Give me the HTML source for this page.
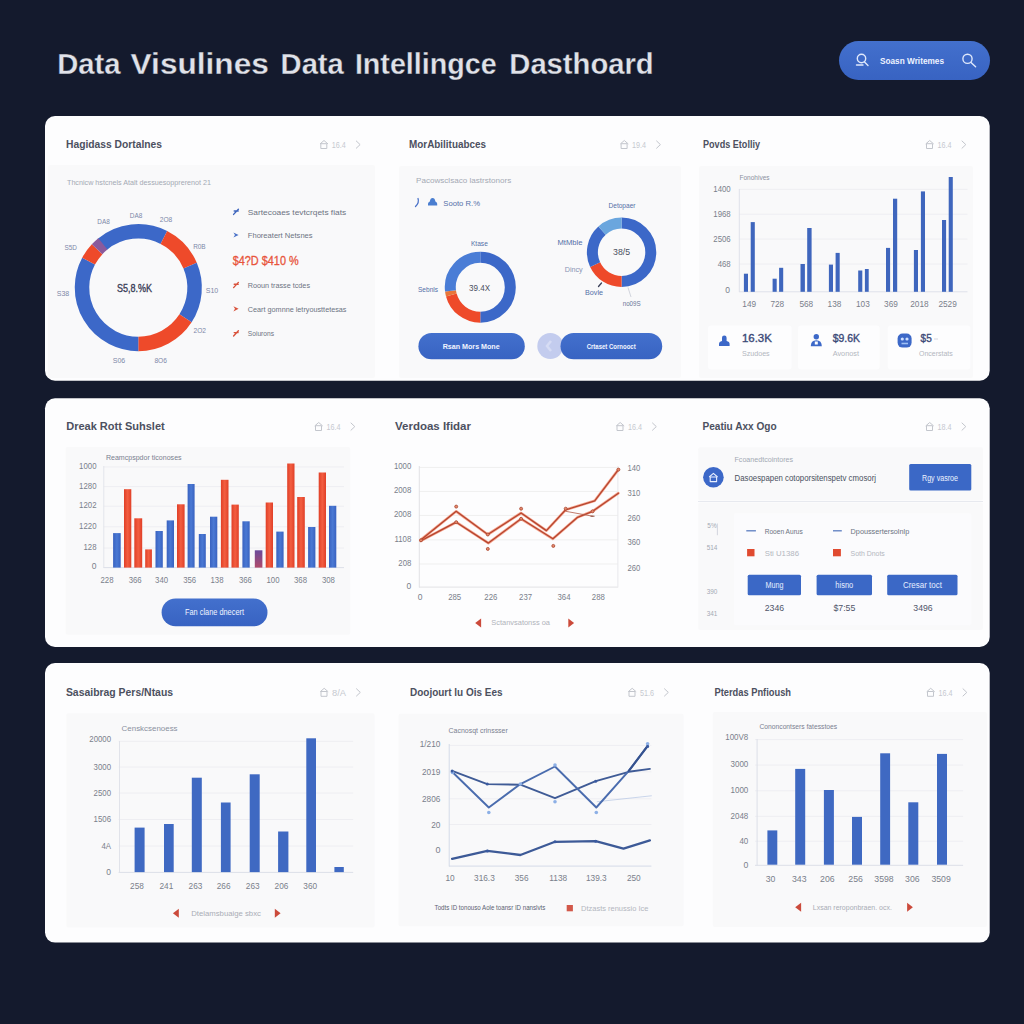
<!DOCTYPE html>
<html lang="en"><head><meta charset="utf-8"><title>Data Intelligence Dashboard</title>
<style>html,body{margin:0;padding:0;background:#141a2d;}body{width:1024px;height:1024px;overflow:hidden;}svg{display:block;}text{white-space:pre;}</style>
</head><body>
<svg width="1024" height="1024" viewBox="0 0 1024 1024" font-family='"Liberation Sans", sans-serif'>
<defs><linearGradient id="gR" x1="0" x2="1" y1="0" y2="0"><stop offset="0" stop-color="#e03f27"/><stop offset="0.5" stop-color="#f35e41"/><stop offset="1" stop-color="#e03f27"/></linearGradient><linearGradient id="gB" x1="0" x2="1" y1="0" y2="0"><stop offset="0" stop-color="#3962c0"/><stop offset="0.5" stop-color="#4a79d4"/><stop offset="1" stop-color="#3962c0"/></linearGradient><linearGradient id="gP" x1="0" x2="0" y1="0" y2="1"><stop offset="0" stop-color="#6a4a9c"/><stop offset="1" stop-color="#b04a6a"/></linearGradient><linearGradient id="gBtn" x1="0" x2="0" y1="0" y2="1"><stop offset="0" stop-color="#4370cd"/><stop offset="1" stop-color="#3863c2"/></linearGradient></defs>
<rect x="0.0" y="0.0" width="1024.0" height="1024.0" fill="#141a2d"/>
<text x="57.2" y="74.4" font-size="29.5" font-weight="bold" fill="#e0e2e9" stroke="#141a2d" stroke-width="0.3" textLength="63.4" lengthAdjust="spacingAndGlyphs">Data</text>
<text x="130.6" y="74.4" font-size="29.5" font-weight="bold" fill="#e0e2e9" stroke="#141a2d" stroke-width="0.3" textLength="138.2" lengthAdjust="spacingAndGlyphs">Visulines</text>
<text x="280.6" y="74.4" font-size="29.5" font-weight="bold" fill="#e0e2e9" stroke="#141a2d" stroke-width="0.3" textLength="63.2" lengthAdjust="spacingAndGlyphs">Data</text>
<text x="354.9" y="74.4" font-size="29.5" font-weight="bold" fill="#e0e2e9" stroke="#141a2d" stroke-width="0.3" textLength="141.8" lengthAdjust="spacingAndGlyphs">Intellingce</text>
<text x="509.3" y="74.4" font-size="29.5" font-weight="bold" fill="#e0e2e9" stroke="#141a2d" stroke-width="0.3" textLength="144.4" lengthAdjust="spacingAndGlyphs">Dasthoard</text>
<rect x="839.0" y="41.0" width="151.0" height="39.0" fill="url(#gBtn)" rx="19.5"/>
<g fill="none" stroke="#dfe8fb" stroke-width="1.4" stroke-linecap="round"><circle cx="861.5" cy="58.5" r="4.2"/><path d="M856.5 65 h6.5 M864.5 62 l3.5 3.5"/><circle cx="967.5" cy="58.8" r="4.6"/><path d="M971 62.4 l4.6 4.4"/></g>
<text x="880.0" y="63.7" font-size="9" fill="#eef3ff" textLength="64.0" lengthAdjust="spacingAndGlyphs" font-weight="bold">Soasn Writemes</text>
<rect x="45.0" y="116.0" width="944.7" height="264.7" fill="#fdfdfe" rx="10"/>
<rect x="45.0" y="398.2" width="944.7" height="248.8" fill="#fdfdfe" rx="10"/>
<rect x="45.0" y="663.0" width="944.7" height="279.6" fill="#fdfdfe" rx="10"/>
<rect x="48.0" y="165.0" width="327.0" height="213.0" fill="#f9f9fa" rx="2"/>
<rect x="399.0" y="166.0" width="282.0" height="212.0" fill="#f9f9fa" rx="2"/>
<rect x="699.0" y="166.0" width="274.0" height="212.0" fill="#f9f9fa" rx="2"/>
<text x="66.0" y="148.1" font-size="11" fill="#4c5060" textLength="96.0" lengthAdjust="spacingAndGlyphs" font-weight="bold">Hagidass Dortalnes</text>
<text x="409.0" y="148.1" font-size="11" fill="#4c5060" textLength="77.0" lengthAdjust="spacingAndGlyphs" font-weight="bold">MorAbilituabces</text>
<text x="703.0" y="148.1" font-size="11" fill="#4c5060" textLength="57.0" lengthAdjust="spacingAndGlyphs" font-weight="bold">Povds Etolliy</text>
<g fill="none" stroke="#c3c6cd" stroke-width="1" stroke-linejoin="round" stroke-linecap="round"><path d="M320.3 143.7 L324.0 140.5 L327.7 143.7"/><rect x="321.2" y="143.7" width="5.6" height="4.8"/><path d="M356.3 141.0 l3.8 3.6 l-3.8 3.6"/></g>
<text x="331.8" y="147.8" font-size="8.5" fill="#c6c9d0" textLength="14.0" lengthAdjust="spacingAndGlyphs">16.4</text>
<g fill="none" stroke="#c3c6cd" stroke-width="1" stroke-linejoin="round" stroke-linecap="round"><path d="M620.6 143.7 L624.3 140.5 L628.0 143.7"/><rect x="621.5" y="143.7" width="5.6" height="4.8"/><path d="M656.6 141.0 l3.8 3.6 l-3.8 3.6"/></g>
<text x="632.1" y="147.8" font-size="8.5" fill="#c6c9d0" textLength="14.0" lengthAdjust="spacingAndGlyphs">19.4</text>
<g fill="none" stroke="#c3c6cd" stroke-width="1" stroke-linejoin="round" stroke-linecap="round"><path d="M926.0 143.7 L929.7 140.5 L933.4 143.7"/><rect x="926.9" y="143.7" width="5.6" height="4.8"/><path d="M962.0 141.0 l3.8 3.6 l-3.8 3.6"/></g>
<text x="937.5" y="147.8" font-size="8.5" fill="#c6c9d0" textLength="14.0" lengthAdjust="spacingAndGlyphs">16.4</text>
<text x="67.0" y="185.3" font-size="7.5" fill="#a4a9b4" textLength="144.0" lengthAdjust="spacingAndGlyphs">Thcnicw hstcnels Atalt dessuesopprerenot 21</text>
<path d="M102.11 244.47 A56.3 56.3 0 0 1 163.86 237.44" fill="none" stroke="#3c68c8" stroke-width="14.5"/>
<path d="M163.86 237.44 A56.3 56.3 0 0 1 190.12 265.60" fill="none" stroke="#ee4a2a" stroke-width="14.5"/>
<path d="M190.12 265.60 A56.3 56.3 0 0 1 185.52 318.26" fill="none" stroke="#3c68c8" stroke-width="14.5"/>
<path d="M185.52 318.26 A56.3 56.3 0 0 1 138.30 343.90" fill="none" stroke="#ee4a2a" stroke-width="14.5"/>
<path d="M138.30 343.90 A56.3 56.3 0 0 1 88.59 261.17" fill="none" stroke="#3c68c8" stroke-width="14.5"/>
<path d="M88.59 261.17 A56.3 56.3 0 0 1 97.12 249.20" fill="none" stroke="#ee4a2a" stroke-width="14.5"/>
<path d="M97.12 249.20 A56.3 56.3 0 0 1 102.87 243.85" fill="none" stroke="#8a5a9c" stroke-width="14.5"/>
<text x="134.4" y="291.9" font-size="11" fill="#3a4058" text-anchor="middle" textLength="35.0" lengthAdjust="spacingAndGlyphs" stroke="#3a4058" stroke-width="0.35">S5,8.%K</text>
<text x="136.0" y="217.5" font-size="8" fill="#7d88a8" text-anchor="middle" textLength="12.5" lengthAdjust="spacingAndGlyphs">DA8</text>
<text x="103.6" y="224.2" font-size="8" fill="#7d88a8" text-anchor="middle" textLength="12.5" lengthAdjust="spacingAndGlyphs">DA8</text>
<text x="166.0" y="222.4" font-size="8" fill="#7d88a8" text-anchor="middle" textLength="12.5" lengthAdjust="spacingAndGlyphs">2O8</text>
<text x="70.7" y="249.9" font-size="8" fill="#7d88a8" text-anchor="middle" textLength="12.5" lengthAdjust="spacingAndGlyphs">S5D</text>
<text x="199.4" y="248.9" font-size="8" fill="#7d88a8" text-anchor="middle" textLength="12.5" lengthAdjust="spacingAndGlyphs">R0B</text>
<text x="63.0" y="295.9" font-size="8" fill="#7d88a8" text-anchor="middle" textLength="12.5" lengthAdjust="spacingAndGlyphs">S38</text>
<text x="212.0" y="292.9" font-size="8" fill="#7d88a8" text-anchor="middle" textLength="12.5" lengthAdjust="spacingAndGlyphs">S10</text>
<text x="199.8" y="332.9" font-size="8" fill="#7d88a8" text-anchor="middle" textLength="12.5" lengthAdjust="spacingAndGlyphs">2O2</text>
<text x="119.0" y="363.4" font-size="8" fill="#7d88a8" text-anchor="middle" textLength="12.5" lengthAdjust="spacingAndGlyphs">S06</text>
<text x="160.7" y="363.4" font-size="8" fill="#7d88a8" text-anchor="middle" textLength="12.5" lengthAdjust="spacingAndGlyphs">8O6</text>
<path d="M233.6 214.4 L238.4 209.2 M234.2 211.0 h4" stroke="#3f66bd" stroke-width="1.4" fill="none" stroke-linecap="round"/>
<text x="247.8" y="214.8" font-size="7.7" fill="#6c7382" textLength="98.4" lengthAdjust="spacingAndGlyphs">Sartecoaes tevtcrqets fiats</text>
<path d="M233.4 232.4 L238.6 235.0 L233.4 237.6 L235.0 235.0 Z" fill="#4a72c8"/>
<text x="247.8" y="237.8" font-size="7.7" fill="#6c7382" textLength="64.8" lengthAdjust="spacingAndGlyphs">Fhoreatert Netsnes</text>
<text x="232.7" y="264.6" font-size="12.2" fill="#e8543a" textLength="66.0" lengthAdjust="spacingAndGlyphs" stroke="#e8543a" stroke-width="0.3">$4?D $410 %</text>
<path d="M233.6 287.6 L238.4 282.4 M234.2 284.2 h4" stroke="#d9533c" stroke-width="1.4" fill="none" stroke-linecap="round"/>
<text x="247.8" y="288.0" font-size="7.7" fill="#6c7382" textLength="62.2" lengthAdjust="spacingAndGlyphs">Rooun trasse tcdes</text>
<path d="M233.4 306.2 L238.6 308.8 L233.4 311.4 L235.0 308.8 Z" fill="#d9533c"/>
<text x="247.8" y="311.8" font-size="7.7" fill="#6c7382" textLength="98.7" lengthAdjust="spacingAndGlyphs">Ceart gomnne letryousttetesas</text>
<path d="M233.6 336.0 L238.4 330.8 M234.2 332.6 h4" stroke="#d9533c" stroke-width="1.4" fill="none" stroke-linecap="round"/>
<text x="247.8" y="336.4" font-size="7.7" fill="#6c7382" textLength="26.2" lengthAdjust="spacingAndGlyphs">Soiurons</text>
<text x="416.0" y="183.3" font-size="7.7" fill="#a4a9b4" textLength="95.3" lengthAdjust="spacingAndGlyphs">Pacowsclsaco lastrstonors</text>
<path d="M418 198.5 q1.5 4 -2.5 8" stroke="#4a72c8" stroke-width="1.3" fill="none" stroke-linecap="round"/>
<path d="M428 205.6 v-1.8 q0 -1.8 1.8 -2.4 q0.6 -3.4 2.8 -3.4 q2.2 0 2.8 3.4 q1.8 0.6 1.8 2.4 v1.8 z" fill="#4a7ed0"/>
<text x="443.3" y="205.6" font-size="8" fill="#5570a8" textLength="36.7" lengthAdjust="spacingAndGlyphs">Sooto R.%</text>
<path d="M480.30 257.20 A30 30 0 0 1 480.30 317.20" fill="none" stroke="#3c68c8" stroke-width="11"/>
<path d="M480.30 317.20 A30 30 0 0 1 451.32 294.96" fill="none" stroke="#ee4a2a" stroke-width="11"/>
<path d="M451.32 294.96 A30 30 0 0 1 450.52 290.86" fill="none" stroke="#e8763a" stroke-width="11"/>
<path d="M450.52 290.86 A30 30 0 0 1 480.30 257.20" fill="none" stroke="#4a7dd6" stroke-width="11"/>
<text x="479.5" y="291.0" font-size="8.5" fill="#4a5060" text-anchor="middle" textLength="21.0" lengthAdjust="spacingAndGlyphs">39.4X</text>
<text x="479.4" y="245.7" font-size="7.5" fill="#5570a8" text-anchor="middle" textLength="17.0" lengthAdjust="spacingAndGlyphs">Ktase</text>
<text x="428.0" y="291.7" font-size="7.5" fill="#5570a8" text-anchor="middle" textLength="20.0" lengthAdjust="spacingAndGlyphs">Sebnls</text>
<path d="M621.60 223.10 A29.2 29.2 0 0 1 621.60 281.50" fill="none" stroke="#3c68c8" stroke-width="11"/>
<path d="M621.60 281.50 A29.2 29.2 0 0 1 595.14 264.64" fill="none" stroke="#ee4a2a" stroke-width="11"/>
<path d="M595.14 264.64 A29.2 29.2 0 0 1 602.06 230.60" fill="none" stroke="#3c68c8" stroke-width="11"/>
<path d="M602.06 230.60 A29.2 29.2 0 0 1 621.60 223.10" fill="none" stroke="#6aa6de" stroke-width="11"/>
<text x="621.6" y="254.9" font-size="8.5" fill="#4a5060" text-anchor="middle" textLength="17.0" lengthAdjust="spacingAndGlyphs">38/5</text>
<text x="622.0" y="208.1" font-size="7.5" fill="#5570a8" text-anchor="middle" textLength="27.0" lengthAdjust="spacingAndGlyphs">Detopaer</text>
<text x="570.0" y="244.7" font-size="7.5" fill="#5570a8" text-anchor="middle" textLength="25.0" lengthAdjust="spacingAndGlyphs">MtMble</text>
<text x="573.7" y="272.0" font-size="7.5" fill="#8a94b4" text-anchor="middle" textLength="18.0" lengthAdjust="spacingAndGlyphs">Dincy</text>
<text x="594.0" y="295.1" font-size="7.5" fill="#5570a8" text-anchor="middle" textLength="18.0" lengthAdjust="spacingAndGlyphs">Bovle</text>
<text x="631.7" y="306.3" font-size="7.5" fill="#6a7898" text-anchor="middle" textLength="18.0" lengthAdjust="spacingAndGlyphs">no09S</text>
<line x1="628.0" y1="287.5" x2="631.0" y2="297.0" stroke="#c8ccd6" stroke-width="0.8"/>
<path d="M598.5 286.5 l3 -3.5" stroke="#3a4058" stroke-width="1.3" stroke-linecap="round"/>
<rect x="418.4" y="333.0" width="106.4" height="26.3" fill="url(#gBtn)" rx="13.2"/>
<text x="471.2" y="349.1" font-size="8" fill="#f1f5ff" text-anchor="middle" textLength="57.0" lengthAdjust="spacingAndGlyphs" font-weight="bold">Rsan Mors Mone</text>
<circle cx="550.3" cy="346" r="13" fill="#c3ccee"/>
<path d="M551 341 l-4 5 l4 5" stroke="#d6dcf4" stroke-width="2.5" fill="none"/>
<rect x="560.5" y="333.0" width="101.7" height="26.3" fill="url(#gBtn)" rx="13.2"/>
<text x="611.2" y="348.8" font-size="7.3" fill="#f1f5ff" text-anchor="middle" textLength="49.0" lengthAdjust="spacingAndGlyphs" font-weight="bold">Crtaset Cornooct</text>
<text x="739.5" y="180.1" font-size="7" fill="#8a90a0" textLength="30.0" lengthAdjust="spacingAndGlyphs">Fonohives</text>
<line x1="739.0" y1="189.3" x2="967.5" y2="189.3" stroke="#eeeef2" stroke-width="1"/>
<line x1="739.0" y1="214.2" x2="967.5" y2="214.2" stroke="#eeeef2" stroke-width="1"/>
<line x1="739.0" y1="239.1" x2="967.5" y2="239.1" stroke="#eeeef2" stroke-width="1"/>
<line x1="739.0" y1="264.0" x2="967.5" y2="264.0" stroke="#eeeef2" stroke-width="1"/>
<line x1="739.0" y1="291.8" x2="967.5" y2="291.8" stroke="#dfe2ea" stroke-width="1"/>
<line x1="739.3" y1="189.0" x2="739.3" y2="292.0" stroke="#dfe2ea" stroke-width="1"/>
<text x="730.7" y="192.3" font-size="8.5" fill="#7a7f8b" text-anchor="end" textLength="17.4" lengthAdjust="spacingAndGlyphs">1400</text>
<text x="730.7" y="217.2" font-size="8.5" fill="#7a7f8b" text-anchor="end" textLength="17.4" lengthAdjust="spacingAndGlyphs">1968</text>
<text x="730.7" y="242.1" font-size="8.5" fill="#7a7f8b" text-anchor="end" textLength="17.4" lengthAdjust="spacingAndGlyphs">2506</text>
<text x="730.7" y="267.0" font-size="8.5" fill="#7a7f8b" text-anchor="end" textLength="13.0" lengthAdjust="spacingAndGlyphs">468</text>
<text x="730.0" y="292.5" font-size="8.5" fill="#7a7f8b" text-anchor="end">0</text>
<rect x="743.9" y="273.7" width="4.1" height="18.1" fill="#3f66bd"/>
<rect x="750.7" y="222.1" width="4.1" height="69.7" fill="#3f66bd"/>
<rect x="772.6" y="278.7" width="4.1" height="13.1" fill="#3f66bd"/>
<rect x="779.1" y="267.8" width="4.1" height="24.0" fill="#3f66bd"/>
<rect x="800.5" y="264.0" width="4.4" height="27.8" fill="#3f66bd"/>
<rect x="807.2" y="228.0" width="4.4" height="63.8" fill="#3f66bd"/>
<rect x="828.9" y="264.6" width="4.1" height="27.2" fill="#3f66bd"/>
<rect x="835.6" y="252.9" width="4.1" height="38.9" fill="#3f66bd"/>
<rect x="858.2" y="270.5" width="4.1" height="21.3" fill="#3f66bd"/>
<rect x="864.9" y="269.0" width="3.8" height="22.8" fill="#3f66bd"/>
<rect x="886.0" y="247.9" width="4.1" height="43.9" fill="#3f66bd"/>
<rect x="893.0" y="198.7" width="4.2" height="93.1" fill="#3f66bd"/>
<rect x="913.9" y="250.0" width="4.1" height="41.8" fill="#3f66bd"/>
<rect x="920.9" y="191.4" width="4.1" height="100.4" fill="#3f66bd"/>
<rect x="942.0" y="220.0" width="4.1" height="71.8" fill="#3f66bd"/>
<rect x="948.7" y="177.0" width="4.1" height="114.8" fill="#3f66bd"/>
<text x="749.2" y="307.4" font-size="9" fill="#7a7f8b" text-anchor="middle" textLength="13.8" lengthAdjust="spacingAndGlyphs">149</text>
<text x="777.3" y="307.4" font-size="9" fill="#7a7f8b" text-anchor="middle" textLength="13.8" lengthAdjust="spacingAndGlyphs">728</text>
<text x="806.3" y="307.4" font-size="9" fill="#7a7f8b" text-anchor="middle" textLength="13.8" lengthAdjust="spacingAndGlyphs">568</text>
<text x="834.5" y="307.4" font-size="9" fill="#7a7f8b" text-anchor="middle" textLength="13.8" lengthAdjust="spacingAndGlyphs">138</text>
<text x="862.9" y="307.4" font-size="9" fill="#7a7f8b" text-anchor="middle" textLength="13.8" lengthAdjust="spacingAndGlyphs">103</text>
<text x="891.0" y="307.4" font-size="9" fill="#7a7f8b" text-anchor="middle" textLength="13.8" lengthAdjust="spacingAndGlyphs">369</text>
<text x="919.4" y="307.4" font-size="9" fill="#7a7f8b" text-anchor="middle" textLength="18.4" lengthAdjust="spacingAndGlyphs">2018</text>
<text x="947.6" y="307.4" font-size="9" fill="#7a7f8b" text-anchor="middle" textLength="18.4" lengthAdjust="spacingAndGlyphs">2529</text>
<rect x="708.0" y="325.5" width="83.7" height="44.0" fill="#fdfdfe" rx="3"/>
<rect x="798.0" y="325.5" width="81.6" height="44.0" fill="#fdfdfe" rx="3"/>
<rect x="887.8" y="325.5" width="82.6" height="44.0" fill="#fdfdfe" rx="3"/>
<path d="M719 346 v-2 q0 -2.5 3 -3 v-3.2 q0 -2.3 2.3 -2.3 q2.3 0 2.3 2.3 v3.2 q3 0.5 3 3 v2 z" fill="#3c68c8"/>
<circle cx="816.3" cy="336.8" r="2.7" fill="#3c68c8"/><path d="M810.8 346.3 q0 -6 5.5 -6 q5.5 0 5.5 6 z" fill="#3c68c8"/><rect x="814.8" y="341.5" width="3" height="3" fill="#fdfdfe"/>
<rect x="897.6" y="333.6" width="14" height="14" rx="5" fill="#3c68c8"/><circle cx="902.3" cy="339" r="1.6" fill="#cfe0ff"/><circle cx="907" cy="339" r="1.6" fill="#cfe0ff"/><path d="M901.5 343.5 h6.5" stroke="#9fc0f5" stroke-width="1.6"/>
<text x="741.9" y="341.9" font-size="10.5" fill="#3c4a78" textLength="30.0" lengthAdjust="spacingAndGlyphs" stroke="#3c4a78" stroke-width="0.35">16.3K</text>
<text x="741.9" y="356.1" font-size="7.5" fill="#b3b7c0" textLength="27.8" lengthAdjust="spacingAndGlyphs">Szudoes</text>
<text x="832.7" y="341.9" font-size="10.5" fill="#3c4a78" textLength="27.3" lengthAdjust="spacingAndGlyphs" stroke="#3c4a78" stroke-width="0.35">$9.6K</text>
<text x="832.7" y="356.1" font-size="7.5" fill="#b3b7c0" textLength="26.3" lengthAdjust="spacingAndGlyphs">Avonost</text>
<text x="920.6" y="341.9" font-size="10.5" fill="#3c4a78" textLength="11.1" lengthAdjust="spacingAndGlyphs" stroke="#3c4a78" stroke-width="0.35">$5</text>
<line x1="934.0" y1="339.0" x2="938.0" y2="339.0" stroke="#d5d8e0" stroke-width="1"/>
<text x="919.0" y="356.1" font-size="7.5" fill="#b3b7c0" textLength="33.8" lengthAdjust="spacingAndGlyphs">Oncerstats</text>
<rect x="65.6" y="447.0" width="284.6" height="187.8" fill="#f9f9fa" rx="2"/>
<rect x="698.2" y="447.3" width="284.8" height="53.2" fill="#f9f9fa" rx="2"/>
<rect x="698.2" y="502.5" width="284.8" height="127.5" fill="#f9f9fa" rx="2"/>
<line x1="698.0" y1="501.5" x2="983.0" y2="501.5" stroke="#e7e9ef" stroke-width="1"/>
<rect x="734.0" y="513.2" width="237.3" height="112.0" fill="#fbfbfd" rx="2"/>
<text x="66.2" y="430.1" font-size="11" fill="#4c5060" textLength="98.5" lengthAdjust="spacingAndGlyphs" font-weight="bold">Dreak Rott Suhslet</text>
<text x="395.0" y="430.1" font-size="11" fill="#4c5060" textLength="76.0" lengthAdjust="spacingAndGlyphs" font-weight="bold">Verdoas Ifidar</text>
<text x="702.5" y="430.1" font-size="11" fill="#4c5060" textLength="74.2" lengthAdjust="spacingAndGlyphs" font-weight="bold">Peatiu Axx Ogo</text>
<g fill="none" stroke="#c3c6cd" stroke-width="1" stroke-linejoin="round" stroke-linecap="round"><path d="M315.0 425.7 L318.7 422.5 L322.4 425.7"/><rect x="315.9" y="425.7" width="5.6" height="4.8"/><path d="M351.0 423.0 l3.8 3.6 l-3.8 3.6"/></g>
<text x="326.5" y="429.8" font-size="8.5" fill="#c6c9d0" textLength="14.0" lengthAdjust="spacingAndGlyphs">16.4</text>
<g fill="none" stroke="#c3c6cd" stroke-width="1" stroke-linejoin="round" stroke-linecap="round"><path d="M616.5 425.7 L620.2 422.5 L623.9 425.7"/><rect x="617.4" y="425.7" width="5.6" height="4.8"/><path d="M652.5 423.0 l3.8 3.6 l-3.8 3.6"/></g>
<text x="628.0" y="429.8" font-size="8.5" fill="#c6c9d0" textLength="14.0" lengthAdjust="spacingAndGlyphs">16.4</text>
<g fill="none" stroke="#c3c6cd" stroke-width="1" stroke-linejoin="round" stroke-linecap="round"><path d="M926.0 425.7 L929.7 422.5 L933.4 425.7"/><rect x="926.9" y="425.7" width="5.6" height="4.8"/><path d="M962.0 423.0 l3.8 3.6 l-3.8 3.6"/></g>
<text x="937.5" y="429.8" font-size="8.5" fill="#c6c9d0" textLength="14.0" lengthAdjust="spacingAndGlyphs">18.4</text>
<text x="105.9" y="460.3" font-size="7.3" fill="#7a8090" textLength="75.7" lengthAdjust="spacingAndGlyphs">Reamcpspdor ticonoses</text>
<line x1="103.4" y1="466.9" x2="344.0" y2="466.9" stroke="#eeeef2" stroke-width="1"/>
<line x1="103.4" y1="486.6" x2="344.0" y2="486.6" stroke="#eeeef2" stroke-width="1"/>
<line x1="103.4" y1="506.2" x2="344.0" y2="506.2" stroke="#eeeef2" stroke-width="1"/>
<line x1="103.4" y1="526.8" x2="344.0" y2="526.8" stroke="#eeeef2" stroke-width="1"/>
<line x1="103.4" y1="548.0" x2="344.0" y2="548.0" stroke="#eeeef2" stroke-width="1"/>
<line x1="103.4" y1="567.6" x2="344.0" y2="567.6" stroke="#dcdfe8" stroke-width="1"/>
<line x1="103.8" y1="466.0" x2="103.8" y2="568.0" stroke="#e3e5ec" stroke-width="1"/>
<text x="96.5" y="468.9" font-size="8.5" fill="#7a7f8b" text-anchor="end" textLength="17.4" lengthAdjust="spacingAndGlyphs">1000</text>
<text x="96.5" y="488.6" font-size="8.5" fill="#7a7f8b" text-anchor="end" textLength="17.4" lengthAdjust="spacingAndGlyphs">1280</text>
<text x="96.5" y="508.2" font-size="8.5" fill="#7a7f8b" text-anchor="end" textLength="17.4" lengthAdjust="spacingAndGlyphs">1202</text>
<text x="96.5" y="528.8" font-size="8.5" fill="#7a7f8b" text-anchor="end" textLength="17.4" lengthAdjust="spacingAndGlyphs">1220</text>
<text x="96.5" y="550.0" font-size="8.5" fill="#7a7f8b" text-anchor="end" textLength="13.0" lengthAdjust="spacingAndGlyphs">128</text>
<text x="96.5" y="569.0" font-size="8.5" fill="#7a7f8b" text-anchor="end">0</text>
<rect x="113.1" y="533.1" width="7.6" height="34.5" fill="url(#gB)"/>
<rect x="124.0" y="489.2" width="7.3" height="78.4" fill="url(#gR)"/>
<rect x="134.3" y="518.3" width="7.9" height="49.3" fill="url(#gR)"/>
<rect x="145.2" y="549.4" width="6.7" height="18.2" fill="url(#gR)"/>
<rect x="155.5" y="531.0" width="7.3" height="36.6" fill="url(#gB)"/>
<rect x="166.7" y="520.4" width="7.3" height="47.2" fill="url(#gB)"/>
<rect x="177.0" y="504.3" width="7.6" height="63.3" fill="url(#gR)"/>
<rect x="187.6" y="484.0" width="7.0" height="83.6" fill="url(#gB)"/>
<rect x="198.8" y="534.0" width="7.0" height="33.6" fill="url(#gB)"/>
<rect x="210.0" y="516.7" width="7.3" height="50.9" fill="url(#gB)"/>
<rect x="220.9" y="479.8" width="7.6" height="87.8" fill="url(#gR)"/>
<rect x="231.5" y="504.6" width="7.3" height="63.0" fill="url(#gR)"/>
<rect x="242.4" y="521.3" width="7.3" height="46.3" fill="url(#gB)"/>
<rect x="254.8" y="550.3" width="7.6" height="17.3" fill="url(#gP)"/>
<rect x="265.7" y="502.5" width="7.3" height="65.1" fill="url(#gR)"/>
<rect x="276.3" y="531.6" width="7.3" height="36.0" fill="url(#gB)"/>
<rect x="287.2" y="463.5" width="7.3" height="104.1" fill="url(#gR)"/>
<rect x="297.2" y="497.0" width="7.6" height="70.6" fill="url(#gR)"/>
<rect x="308.1" y="527.0" width="7.3" height="40.6" fill="url(#gB)"/>
<rect x="318.7" y="472.5" width="7.3" height="95.1" fill="url(#gR)"/>
<rect x="329.0" y="505.8" width="7.3" height="61.8" fill="url(#gB)"/>
<text x="107.0" y="583.3" font-size="8.5" fill="#7a7f8b" text-anchor="middle" textLength="13.0" lengthAdjust="spacingAndGlyphs">228</text>
<text x="135.2" y="583.3" font-size="8.5" fill="#7a7f8b" text-anchor="middle" textLength="13.0" lengthAdjust="spacingAndGlyphs">366</text>
<text x="161.6" y="583.3" font-size="8.5" fill="#7a7f8b" text-anchor="middle" textLength="13.0" lengthAdjust="spacingAndGlyphs">340</text>
<text x="189.7" y="583.3" font-size="8.5" fill="#7a7f8b" text-anchor="middle" textLength="13.0" lengthAdjust="spacingAndGlyphs">356</text>
<text x="217.0" y="583.3" font-size="8.5" fill="#7a7f8b" text-anchor="middle" textLength="13.0" lengthAdjust="spacingAndGlyphs">138</text>
<text x="245.4" y="583.3" font-size="8.5" fill="#7a7f8b" text-anchor="middle" textLength="13.0" lengthAdjust="spacingAndGlyphs">366</text>
<text x="273.0" y="583.3" font-size="8.5" fill="#7a7f8b" text-anchor="middle" textLength="13.0" lengthAdjust="spacingAndGlyphs">100</text>
<text x="300.5" y="583.3" font-size="8.5" fill="#7a7f8b" text-anchor="middle" textLength="13.0" lengthAdjust="spacingAndGlyphs">368</text>
<text x="328.4" y="583.3" font-size="8.5" fill="#7a7f8b" text-anchor="middle" textLength="13.0" lengthAdjust="spacingAndGlyphs">308</text>
<rect x="161.6" y="598.5" width="105.9" height="27.8" fill="url(#gBtn)" rx="14"/>
<text x="214.5" y="615.3" font-size="8.5" fill="#f1f5ff" text-anchor="middle" textLength="59.0" lengthAdjust="spacingAndGlyphs">Fan clane dnecert</text>
<line x1="419.0" y1="467.4" x2="617.9" y2="467.4" stroke="#efefef" stroke-width="1"/>
<line x1="419.0" y1="491.4" x2="617.9" y2="491.4" stroke="#efefef" stroke-width="1"/>
<line x1="419.0" y1="515.4" x2="617.9" y2="515.4" stroke="#efefef" stroke-width="1"/>
<line x1="419.0" y1="539.8" x2="617.9" y2="539.8" stroke="#efefef" stroke-width="1"/>
<line x1="419.0" y1="564.0" x2="617.9" y2="564.0" stroke="#efefef" stroke-width="1"/>
<line x1="419.0" y1="587.1" x2="617.9" y2="587.1" stroke="#e2e2e5" stroke-width="1"/>
<line x1="419.3" y1="466.0" x2="419.3" y2="587.5" stroke="#e2e2e5" stroke-width="1"/>
<line x1="617.9" y1="466.0" x2="617.9" y2="587.5" stroke="#e9e9ec" stroke-width="1"/>
<text x="411.3" y="469.4" font-size="8.5" fill="#7a7f8b" text-anchor="end" textLength="17.4" lengthAdjust="spacingAndGlyphs">1000</text>
<text x="411.3" y="493.4" font-size="8.5" fill="#7a7f8b" text-anchor="end" textLength="17.4" lengthAdjust="spacingAndGlyphs">2008</text>
<text x="411.3" y="517.4" font-size="8.5" fill="#7a7f8b" text-anchor="end" textLength="17.4" lengthAdjust="spacingAndGlyphs">2008</text>
<text x="411.3" y="541.8" font-size="8.5" fill="#7a7f8b" text-anchor="end" textLength="16.8" lengthAdjust="spacingAndGlyphs">1108</text>
<text x="411.3" y="566.0" font-size="8.5" fill="#7a7f8b" text-anchor="end" textLength="13.0" lengthAdjust="spacingAndGlyphs">208</text>
<text x="411.3" y="589.2" font-size="8.5" fill="#7a7f8b" text-anchor="end">0</text>
<text x="627.6" y="470.6" font-size="8.5" fill="#7a7f8b" textLength="12.8" lengthAdjust="spacingAndGlyphs">140</text>
<text x="627.6" y="495.5" font-size="8.5" fill="#7a7f8b" textLength="12.8" lengthAdjust="spacingAndGlyphs">310</text>
<text x="627.6" y="520.7" font-size="8.5" fill="#7a7f8b" textLength="12.8" lengthAdjust="spacingAndGlyphs">260</text>
<text x="627.6" y="545.3" font-size="8.5" fill="#7a7f8b" textLength="12.8" lengthAdjust="spacingAndGlyphs">360</text>
<text x="627.6" y="571.0" font-size="8.5" fill="#7a7f8b" textLength="12.8" lengthAdjust="spacingAndGlyphs">260</text>
<text x="420.1" y="600.4" font-size="8.5" fill="#7a7f8b" text-anchor="middle">0</text>
<text x="454.7" y="600.4" font-size="8.5" fill="#7a7f8b" text-anchor="middle" textLength="13.0" lengthAdjust="spacingAndGlyphs">285</text>
<text x="490.8" y="600.4" font-size="8.5" fill="#7a7f8b" text-anchor="middle" textLength="13.0" lengthAdjust="spacingAndGlyphs">226</text>
<text x="525.6" y="600.4" font-size="8.5" fill="#7a7f8b" text-anchor="middle" textLength="13.0" lengthAdjust="spacingAndGlyphs">237</text>
<text x="564.0" y="600.4" font-size="8.5" fill="#7a7f8b" text-anchor="middle" textLength="13.0" lengthAdjust="spacingAndGlyphs">364</text>
<text x="598.3" y="600.4" font-size="8.5" fill="#7a7f8b" text-anchor="middle" textLength="13.0" lengthAdjust="spacingAndGlyphs">288</text>
<polyline points="420.7,540.9 456.2,522.2 488.4,543.1 521.1,518.8 552.9,538.8 577.6,517.3 592.6,511.3 618.4,493.2" fill="none" stroke="#f26a45" stroke-width="2.7" stroke-linejoin="round" stroke-linecap="round" opacity="0.6"/>
<polyline points="420.7,540.9 456.2,522.2 488.4,543.1 521.1,518.8 552.9,538.8 577.6,517.3 592.6,511.3 618.4,493.2" fill="none" stroke="#b5452f" stroke-width="1.3" stroke-linejoin="round" stroke-linecap="round"/>
<polyline points="565.7,511.3 592.6,516.2" fill="none" stroke="#b05a48" stroke-width="0.8" stroke-linejoin="round" stroke-linecap="round"/>
<polyline points="420.7,539.9 456.2,511.3 487.8,534.5 521.1,513.0 546.4,530.6 565.7,509.8 594.7,500.8 618.4,469.6" fill="none" stroke="#f26a45" stroke-width="2.7" stroke-linejoin="round" stroke-linecap="round" opacity="0.6"/>
<polyline points="420.7,539.9 456.2,511.3 487.8,534.5 521.1,513.0 546.4,530.6 565.7,509.8 594.7,500.8 618.4,469.6" fill="none" stroke="#b5452f" stroke-width="1.3" stroke-linejoin="round" stroke-linecap="round"/>
<circle cx="456.2" cy="506.6" r="1.5" fill="#e58a6e" stroke="#a8452f" stroke-width="0.8"/>
<circle cx="521.1" cy="508.7" r="1.5" fill="#e58a6e" stroke="#a8452f" stroke-width="0.8"/>
<circle cx="487.8" cy="548.9" r="1.5" fill="#e58a6e" stroke="#a8452f" stroke-width="0.8"/>
<circle cx="553.3" cy="545.9" r="1.5" fill="#e58a6e" stroke="#a8452f" stroke-width="0.8"/>
<circle cx="487.8" cy="534.5" r="1.5" fill="#e58a6e" stroke="#a8452f" stroke-width="0.8"/>
<circle cx="521.1" cy="518.8" r="1.5" fill="#e58a6e" stroke="#a8452f" stroke-width="0.8"/>
<circle cx="456.2" cy="522.2" r="1.5" fill="#e58a6e" stroke="#a8452f" stroke-width="0.8"/>
<circle cx="592.6" cy="511.3" r="1.5" fill="#e58a6e" stroke="#a8452f" stroke-width="0.8"/>
<circle cx="421" cy="540.3" r="1.5" fill="#e58a6e" stroke="#a8452f" stroke-width="0.8"/>
<circle cx="565.7" cy="508.7" r="1.5" fill="#e58a6e" stroke="#a8452f" stroke-width="0.8"/>
<circle cx="618.4" cy="469.6" r="1.5" fill="#e58a6e" stroke="#a8452f" stroke-width="0.8"/>
<line x1="590.5" y1="516.2" x2="594.5" y2="516.2" stroke="#8a4a3a" stroke-width="1"/>
<path d="M481.1 618.4 L475.2 622.9 L481.1 627.4 Z" fill="#cb4a3b"/>
<path d="M568.3 618.4 L574.1 622.9 L568.3 627.4 Z" fill="#cb4a3b"/>
<text x="491.3" y="625.4" font-size="7" fill="#b0b3bb" textLength="58.7" lengthAdjust="spacingAndGlyphs">Sctanvsatonss oa</text>
<text x="734.5" y="462.2" font-size="7.3" fill="#a4a9b4" textLength="58.6" lengthAdjust="spacingAndGlyphs">Fcoanedtcointores</text>
<circle cx="713.4" cy="477.2" r="10.3" fill="#3c68c8"/>
<g fill="none" stroke="#e9f0ff" stroke-width="1.1" stroke-linejoin="round"><path d="M709.2 477 l4.2 -3.6 l4.2 3.6"/><rect x="710.2" y="477" width="6.4" height="4.6"/></g>
<text x="734.5" y="480.6" font-size="8.6" fill="#4a5060" textLength="141.5" lengthAdjust="spacingAndGlyphs">Dasoespapen cotoporsitenspetv cmosorj</text>
<rect x="909.2" y="464.0" width="62.1" height="26.4" fill="#3b68c6" rx="1.5"/>
<text x="940.0" y="480.5" font-size="8.5" fill="#eef3ff" text-anchor="middle" textLength="36.0" lengthAdjust="spacingAndGlyphs">Rgy vasroe</text>
<text x="712.0" y="527.5" font-size="7" fill="#a4a9b4" text-anchor="middle" textLength="9.3" lengthAdjust="spacingAndGlyphs">5%</text>
<text x="712.0" y="550.3" font-size="7" fill="#a4a9b4" text-anchor="middle" textLength="10.7" lengthAdjust="spacingAndGlyphs">514</text>
<text x="712.0" y="594.0" font-size="7" fill="#a4a9b4" text-anchor="middle" textLength="10.7" lengthAdjust="spacingAndGlyphs">390</text>
<text x="712.0" y="616.0" font-size="7" fill="#a4a9b4" text-anchor="middle" textLength="10.7" lengthAdjust="spacingAndGlyphs">341</text>
<line x1="717.4" y1="523.5" x2="717.4" y2="535.2" stroke="#c9cdd6" stroke-width="0.8"/>
<line x1="746.3" y1="530.8" x2="755.9" y2="530.8" stroke="#5a7cc0" stroke-width="1.3"/>
<text x="764.7" y="533.7" font-size="7.5" fill="#6c7382" textLength="38.1" lengthAdjust="spacingAndGlyphs">Rooen Aurus</text>
<line x1="833.0" y1="530.8" x2="841.8" y2="530.8" stroke="#5a7cc0" stroke-width="1.3"/>
<text x="850.6" y="533.7" font-size="7.5" fill="#6c7382" textLength="58.6" lengthAdjust="spacingAndGlyphs">Dpoussertersolnlp</text>
<rect x="747.1" y="549.0" width="7.4" height="7.3" fill="#e04a30"/>
<text x="764.7" y="555.5" font-size="7.5" fill="#b3b7c0" textLength="34.3" lengthAdjust="spacingAndGlyphs">Sti U1386</text>
<rect x="833.0" y="549.0" width="7.9" height="7.3" fill="#e04a30"/>
<text x="850.6" y="555.5" font-size="7.5" fill="#b3b7c0" textLength="34.2" lengthAdjust="spacingAndGlyphs">Soth Dnots</text>
<rect x="747.7" y="574.8" width="53.3" height="20.5" fill="#3b68c6" rx="1.5"/>
<text x="774.4" y="588.3" font-size="8.5" fill="#e6eeff" text-anchor="middle" textLength="18.0" lengthAdjust="spacingAndGlyphs">Mung</text>
<rect x="816.6" y="574.8" width="55.4" height="20.5" fill="#3b68c6" rx="1.5"/>
<text x="844.3" y="588.3" font-size="8.5" fill="#e6eeff" text-anchor="middle" textLength="18.0" lengthAdjust="spacingAndGlyphs">hisno</text>
<rect x="887.2" y="574.8" width="70.3" height="20.5" fill="#3b68c6" rx="1.5"/>
<text x="922.4" y="588.3" font-size="8.5" fill="#e6eeff" text-anchor="middle" textLength="39.0" lengthAdjust="spacingAndGlyphs">Cresar toct</text>
<text x="774.4" y="611.2" font-size="9.5" fill="#50566a" text-anchor="middle" textLength="19.4" lengthAdjust="spacingAndGlyphs">2346</text>
<text x="844.4" y="611.2" font-size="9.5" fill="#50566a" text-anchor="middle" textLength="21.9" lengthAdjust="spacingAndGlyphs">$7:55</text>
<text x="923.0" y="611.2" font-size="9.5" fill="#50566a" text-anchor="middle" textLength="19.4" lengthAdjust="spacingAndGlyphs">3496</text>
<rect x="66.3" y="713.3" width="308.3" height="214.1" fill="#f9f9fa" rx="2"/>
<rect x="398.5" y="713.8" width="285.1" height="212.4" fill="#f9f9fa" rx="2"/>
<rect x="712.8" y="712.0" width="274.2" height="215.0" fill="#f9f9fa" rx="2"/>
<text x="65.9" y="695.9" font-size="11" fill="#4c5060" textLength="107.2" lengthAdjust="spacingAndGlyphs" font-weight="bold">Sasaibrag Pers/Ntaus</text>
<text x="410.0" y="695.9" font-size="11" fill="#4c5060" textLength="92.5" lengthAdjust="spacingAndGlyphs" font-weight="bold">Doojourt lu Ois Ees</text>
<text x="714.5" y="695.9" font-size="11" fill="#4c5060" textLength="76.5" lengthAdjust="spacingAndGlyphs" font-weight="bold">Pterdas Pnfioush</text>
<g fill="none" stroke="#c3c6cd" stroke-width="1" stroke-linejoin="round" stroke-linecap="round"><path d="M320.5 691.5 L324.2 688.3 L327.9 691.5"/><rect x="321.4" y="691.5" width="5.6" height="4.8"/><path d="M356.5 688.8 l3.8 3.6 l-3.8 3.6"/></g>
<text x="332.0" y="695.6" font-size="8.5" fill="#c6c9d0" textLength="14.0" lengthAdjust="spacingAndGlyphs">8/A</text>
<g fill="none" stroke="#c3c6cd" stroke-width="1" stroke-linejoin="round" stroke-linecap="round"><path d="M628.5 691.5 L632.2 688.3 L635.9 691.5"/><rect x="629.4" y="691.5" width="5.6" height="4.8"/><path d="M664.5 688.8 l3.8 3.6 l-3.8 3.6"/></g>
<text x="640.0" y="695.6" font-size="8.5" fill="#c6c9d0" textLength="14.0" lengthAdjust="spacingAndGlyphs">51.6</text>
<g fill="none" stroke="#c3c6cd" stroke-width="1" stroke-linejoin="round" stroke-linecap="round"><path d="M927.0 691.5 L930.7 688.3 L934.4 691.5"/><rect x="927.9" y="691.5" width="5.6" height="4.8"/><path d="M963.0 688.8 l3.8 3.6 l-3.8 3.6"/></g>
<text x="938.5" y="695.6" font-size="8.5" fill="#c6c9d0" textLength="14.0" lengthAdjust="spacingAndGlyphs">16.4</text>
<text x="121.6" y="730.8" font-size="7" fill="#8a90a0" textLength="56.0" lengthAdjust="spacingAndGlyphs">Censkcsenoess</text>
<line x1="118.6" y1="741.3" x2="353.2" y2="741.3" stroke="#eeeef2" stroke-width="1"/>
<line x1="118.6" y1="767.0" x2="353.2" y2="767.0" stroke="#eeeef2" stroke-width="1"/>
<line x1="118.6" y1="793.0" x2="353.2" y2="793.0" stroke="#eeeef2" stroke-width="1"/>
<line x1="118.6" y1="819.5" x2="353.2" y2="819.5" stroke="#eeeef2" stroke-width="1"/>
<line x1="118.6" y1="846.0" x2="353.2" y2="846.0" stroke="#eeeef2" stroke-width="1"/>
<line x1="118.6" y1="872.4" x2="353.2" y2="872.4" stroke="#dcdfe8" stroke-width="1"/>
<line x1="119.5" y1="741.0" x2="119.5" y2="872.5" stroke="#e1e3ea" stroke-width="1"/>
<text x="111.0" y="742.2" font-size="8.5" fill="#7a7f8b" text-anchor="end" textLength="21.7" lengthAdjust="spacingAndGlyphs">20000</text>
<text x="111.0" y="769.5" font-size="8.5" fill="#7a7f8b" text-anchor="end" textLength="17.4" lengthAdjust="spacingAndGlyphs">3000</text>
<text x="111.0" y="795.8" font-size="8.5" fill="#7a7f8b" text-anchor="end" textLength="17.4" lengthAdjust="spacingAndGlyphs">2500</text>
<text x="111.0" y="822.4" font-size="8.5" fill="#7a7f8b" text-anchor="end" textLength="17.4" lengthAdjust="spacingAndGlyphs">1506</text>
<text x="111.0" y="849.0" font-size="8.5" fill="#7a7f8b" text-anchor="end" textLength="9.6" lengthAdjust="spacingAndGlyphs">4A</text>
<text x="111.0" y="875.4" font-size="8.5" fill="#7a7f8b" text-anchor="end">0</text>
<rect x="134.6" y="827.6" width="10.0" height="44.5" fill="#3f69c2"/>
<rect x="164.0" y="824.0" width="9.7" height="48.1" fill="#3f69c2"/>
<rect x="191.8" y="777.7" width="10.0" height="94.4" fill="#3f69c2"/>
<rect x="220.9" y="802.5" width="9.7" height="69.6" fill="#3f69c2"/>
<rect x="249.7" y="774.3" width="10.0" height="97.8" fill="#3f69c2"/>
<rect x="278.1" y="831.5" width="10.3" height="40.6" fill="#3f69c2"/>
<rect x="306.3" y="738.3" width="9.7" height="133.8" fill="#3f69c2"/>
<rect x="334.4" y="867.0" width="9.4" height="5.1" fill="#3f69c2"/>
<text x="137.0" y="889.2" font-size="9" fill="#7a7f8b" text-anchor="middle" textLength="13.8" lengthAdjust="spacingAndGlyphs">258</text>
<text x="166.4" y="889.2" font-size="9" fill="#7a7f8b" text-anchor="middle" textLength="13.8" lengthAdjust="spacingAndGlyphs">241</text>
<text x="195.5" y="889.2" font-size="9" fill="#7a7f8b" text-anchor="middle" textLength="13.8" lengthAdjust="spacingAndGlyphs">263</text>
<text x="223.6" y="889.2" font-size="9" fill="#7a7f8b" text-anchor="middle" textLength="13.8" lengthAdjust="spacingAndGlyphs">266</text>
<text x="252.7" y="889.2" font-size="9" fill="#7a7f8b" text-anchor="middle" textLength="13.8" lengthAdjust="spacingAndGlyphs">263</text>
<text x="281.5" y="889.2" font-size="9" fill="#7a7f8b" text-anchor="middle" textLength="13.8" lengthAdjust="spacingAndGlyphs">206</text>
<text x="310.2" y="889.2" font-size="9" fill="#7a7f8b" text-anchor="middle" textLength="13.8" lengthAdjust="spacingAndGlyphs">360</text>
<path d="M178.8 908.8 L172.9 913.3 L178.8 917.8 Z" fill="#cb4a3b"/>
<path d="M274.8 908.8 L280.6 913.3 L274.8 917.8 Z" fill="#cb4a3b"/>
<text x="191.2" y="915.8" font-size="7" fill="#a9adb6" textLength="69.7" lengthAdjust="spacingAndGlyphs">Dtelamsbuaige sbxc</text>
<text x="448.6" y="733.4" font-size="7.3" fill="#7a8090" textLength="59.2" lengthAdjust="spacingAndGlyphs">Cacnosqt crinssser</text>
<line x1="449.0" y1="745.4" x2="651.4" y2="745.4" stroke="#eeeef2" stroke-width="1"/>
<line x1="449.0" y1="771.8" x2="651.4" y2="771.8" stroke="#eeeef2" stroke-width="1"/>
<line x1="449.0" y1="798.8" x2="651.4" y2="798.8" stroke="#eeeef2" stroke-width="1"/>
<line x1="449.0" y1="824.5" x2="651.4" y2="824.5" stroke="#eeeef2" stroke-width="1"/>
<line x1="449.0" y1="866.1" x2="651.4" y2="866.1" stroke="#d4dbe8" stroke-width="1"/>
<line x1="449.2" y1="744.0" x2="449.2" y2="866.5" stroke="#d4dbe8" stroke-width="1"/>
<text x="440.4" y="747.2" font-size="9" fill="#7a7f8b" text-anchor="end" textLength="20.7" lengthAdjust="spacingAndGlyphs">1/210</text>
<text x="440.4" y="775.0" font-size="9" fill="#7a7f8b" text-anchor="end" textLength="18.4" lengthAdjust="spacingAndGlyphs">2019</text>
<text x="440.4" y="802.0" font-size="9" fill="#7a7f8b" text-anchor="end" textLength="18.4" lengthAdjust="spacingAndGlyphs">2806</text>
<text x="440.4" y="828.3" font-size="9" fill="#7a7f8b" text-anchor="end" textLength="9.2" lengthAdjust="spacingAndGlyphs">20</text>
<text x="440.4" y="853.2" font-size="9" fill="#7a7f8b" text-anchor="end">0</text>
<text x="450.0" y="880.5" font-size="9" fill="#7a7f8b" text-anchor="middle" textLength="9.2" lengthAdjust="spacingAndGlyphs">10</text>
<text x="484.4" y="880.5" font-size="9" fill="#7a7f8b" text-anchor="middle" textLength="20.7" lengthAdjust="spacingAndGlyphs">316.3</text>
<text x="521.6" y="880.5" font-size="9" fill="#7a7f8b" text-anchor="middle" textLength="13.8" lengthAdjust="spacingAndGlyphs">356</text>
<text x="558.2" y="880.5" font-size="9" fill="#7a7f8b" text-anchor="middle" textLength="17.8" lengthAdjust="spacingAndGlyphs">1138</text>
<text x="596.3" y="880.5" font-size="9" fill="#7a7f8b" text-anchor="middle" textLength="20.7" lengthAdjust="spacingAndGlyphs">139.3</text>
<text x="633.8" y="880.5" font-size="9" fill="#7a7f8b" text-anchor="middle" textLength="13.8" lengthAdjust="spacingAndGlyphs">250</text>
<polyline points="597.2,801.7 651.4,795.8" fill="none" stroke="#b4c6e4" stroke-width="0.7" stroke-linejoin="round" stroke-linecap="round"/>
<polyline points="452.1,770.9 487.3,784.1 520.4,784.7 555.0,798.2 595.7,781.2 628.8,771.8 649.9,768.9" fill="none" stroke="#3f5b96" stroke-width="1.9" stroke-linejoin="round" stroke-linecap="round"/>
<polyline points="452.1,771.8 488.8,807.5 520.4,784.1 555.0,766.5 596.3,807.5 628.8,770.9 647.6,746.0" fill="none" stroke="#4a6cae" stroke-width="1.9" stroke-linejoin="round" stroke-linecap="round"/>
<polyline points="628.8,770.9 647.6,746.0" fill="none" stroke="#35528f" stroke-width="2.1" stroke-linejoin="round" stroke-linecap="round"/>
<polyline points="452.1,858.8 487.3,850.9 520.4,855.0 555.0,841.8 595.7,841.2 623.5,848.6 649.9,840.4" fill="none" stroke="#3d5a97" stroke-width="2.3" stroke-linejoin="round" stroke-linecap="round"/>
<circle cx="488.8" cy="812.5" r="1.8" fill="#8db0e6"/>
<circle cx="555" cy="801.7" r="1.8" fill="#8db0e6"/>
<circle cx="596.3" cy="812.5" r="1.8" fill="#8db0e6"/>
<circle cx="647.6" cy="743.7" r="1.8" fill="#8db0e6"/>
<circle cx="555" cy="765" r="1.8" fill="#8db0e6"/>
<circle cx="520.4" cy="784" r="1.8" fill="#8db0e6"/>
<circle cx="452.5" cy="772.5" r="1.8" fill="#8db0e6"/>
<circle cx="452.1" cy="771" r="1.5" fill="#3a5aa0"/>
<circle cx="487.3" cy="784.1" r="1.5" fill="#3a5aa0"/>
<circle cx="595.7" cy="781.2" r="1.5" fill="#3a5aa0"/>
<circle cx="487.3" cy="850.9" r="1.5" fill="#3a5aa0"/>
<circle cx="555" cy="841.8" r="1.5" fill="#3a5aa0"/>
<circle cx="595.7" cy="841.2" r="1.5" fill="#3a5aa0"/>
<circle cx="647.6" cy="746.5" r="1.5" fill="#3a5aa0"/>
<text x="434.6" y="910.3" font-size="6.4" fill="#5a6172" textLength="110.7" lengthAdjust="spacingAndGlyphs">Todts ID tonouso Aole toansr ID nanslvts</text>
<rect x="566.7" y="905.0" width="6.2" height="6.3" fill="#d2584a"/>
<text x="581.0" y="910.6" font-size="7.3" fill="#b3b7c0" textLength="67.4" lengthAdjust="spacingAndGlyphs">Dtzasts renussio Ice</text>
<text x="759.5" y="729.0" font-size="7.2" fill="#7a8090" textLength="77.6" lengthAdjust="spacingAndGlyphs">Cononcontsers fatesstoes</text>
<line x1="755.0" y1="739.6" x2="963.1" y2="739.6" stroke="#eeeef2" stroke-width="1"/>
<line x1="755.0" y1="765.1" x2="963.1" y2="765.1" stroke="#eeeef2" stroke-width="1"/>
<line x1="755.0" y1="790.8" x2="963.1" y2="790.8" stroke="#eeeef2" stroke-width="1"/>
<line x1="755.0" y1="816.3" x2="963.1" y2="816.3" stroke="#eeeef2" stroke-width="1"/>
<line x1="755.0" y1="841.2" x2="963.1" y2="841.2" stroke="#eeeef2" stroke-width="1"/>
<line x1="755.0" y1="865.3" x2="963.1" y2="865.3" stroke="#dcdfe8" stroke-width="1"/>
<line x1="757.1" y1="739.0" x2="757.1" y2="865.5" stroke="#dcdfe8" stroke-width="1"/>
<text x="748.3" y="739.5" font-size="8.7" fill="#7a7f8b" text-anchor="end" textLength="23.1" lengthAdjust="spacingAndGlyphs">100V8</text>
<text x="748.3" y="766.7" font-size="8.7" fill="#7a7f8b" text-anchor="end" textLength="17.8" lengthAdjust="spacingAndGlyphs">3000</text>
<text x="748.3" y="792.5" font-size="8.7" fill="#7a7f8b" text-anchor="end" textLength="17.8" lengthAdjust="spacingAndGlyphs">1000</text>
<text x="748.3" y="818.9" font-size="8.7" fill="#7a7f8b" text-anchor="end" textLength="17.8" lengthAdjust="spacingAndGlyphs">2048</text>
<text x="748.3" y="843.8" font-size="8.7" fill="#7a7f8b" text-anchor="end" textLength="8.9" lengthAdjust="spacingAndGlyphs">40</text>
<text x="748.3" y="867.8" font-size="8.7" fill="#7a7f8b" text-anchor="end">0</text>
<rect x="767.4" y="830.4" width="9.9" height="34.3" fill="#3f69c2"/>
<rect x="795.2" y="768.9" width="10.0" height="95.8" fill="#3f69c2"/>
<rect x="823.9" y="790.0" width="10.0" height="74.7" fill="#3f69c2"/>
<rect x="852.0" y="816.9" width="10.0" height="47.8" fill="#3f69c2"/>
<rect x="880.2" y="753.3" width="9.9" height="111.4" fill="#3f69c2"/>
<rect x="908.3" y="802.3" width="10.0" height="62.4" fill="#3f69c2"/>
<rect x="937.0" y="753.9" width="10.0" height="110.8" fill="#3f69c2"/>
<text x="770.6" y="882.1" font-size="9.5" fill="#7a7f8b" text-anchor="middle" textLength="9.7" lengthAdjust="spacingAndGlyphs">30</text>
<text x="799.3" y="882.1" font-size="9.5" fill="#7a7f8b" text-anchor="middle" textLength="14.6" lengthAdjust="spacingAndGlyphs">343</text>
<text x="827.4" y="882.1" font-size="9.5" fill="#7a7f8b" text-anchor="middle" textLength="14.6" lengthAdjust="spacingAndGlyphs">206</text>
<text x="855.6" y="882.1" font-size="9.5" fill="#7a7f8b" text-anchor="middle" textLength="14.6" lengthAdjust="spacingAndGlyphs">256</text>
<text x="884.0" y="882.1" font-size="9.5" fill="#7a7f8b" text-anchor="middle" textLength="19.4" lengthAdjust="spacingAndGlyphs">3598</text>
<text x="912.4" y="882.1" font-size="9.5" fill="#7a7f8b" text-anchor="middle" textLength="14.6" lengthAdjust="spacingAndGlyphs">306</text>
<text x="941.1" y="882.1" font-size="9.5" fill="#7a7f8b" text-anchor="middle" textLength="19.4" lengthAdjust="spacingAndGlyphs">3509</text>
<path d="M801.1 902.7 L795.2 907.2 L801.1 911.7 Z" fill="#cb4a3b"/>
<path d="M907.1 902.7 L912.9 907.2 L907.1 911.7 Z" fill="#cb4a3b"/>
<text x="812.8" y="909.8" font-size="7.3" fill="#a9adb6" textLength="79.1" lengthAdjust="spacingAndGlyphs">Lxsan reroponbraen. ocx.</text>
</svg>
</body></html>
